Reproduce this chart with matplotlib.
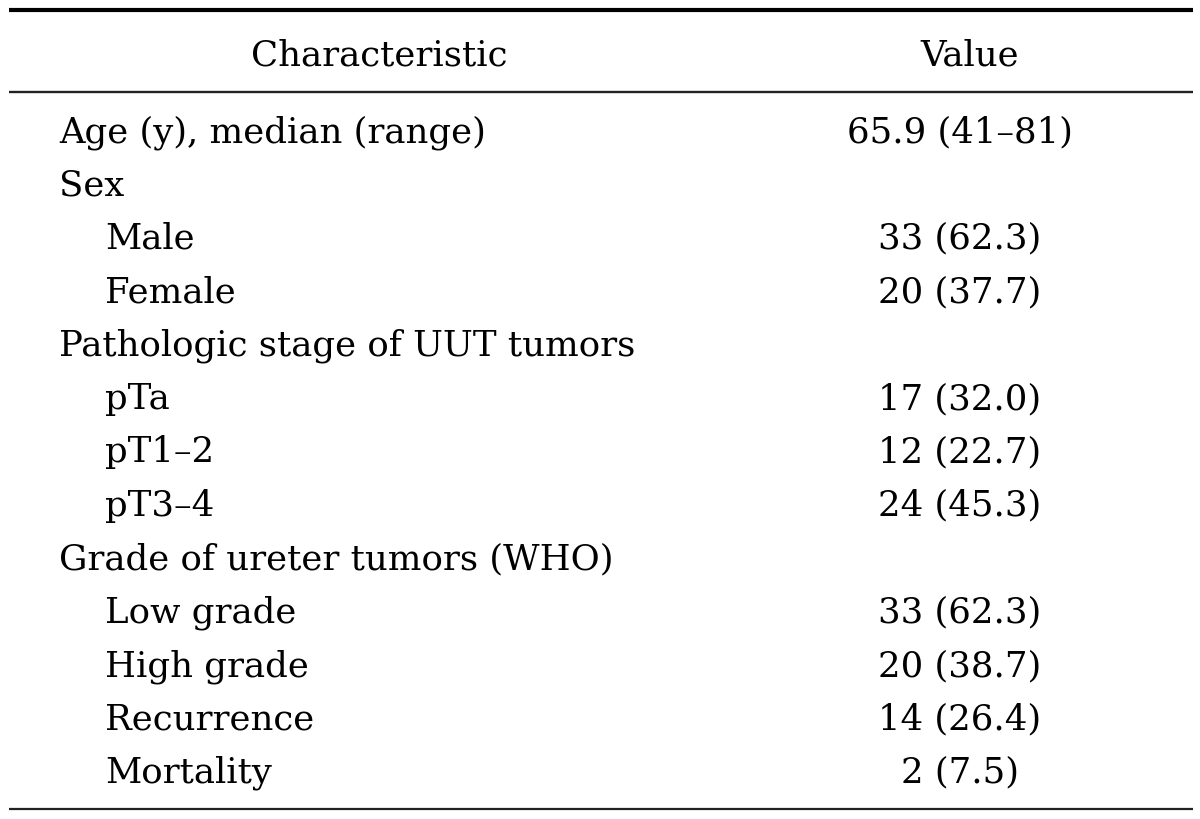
import matplotlib
matplotlib.use("Agg")
import matplotlib.pyplot as plt

# table content
header = ["Characteristic", "Value"]
labels = ["Age (y), median (range)", "Sex", "Male", "Female",
          "Pathologic stage of UUT tumors", "pTa", "pT1\u20132", "pT3\u20134",
          "Grade of ureter tumors (WHO)", "Low grade", "High grade",
          "Recurrence", "Mortality"]
indent = [0, 0, 1, 1, 0, 1, 1, 1, 0, 1, 1, 1, 1]
values = ["65.9 (41\u201381)", "", "33 (62.3)", "20 (37.7)", "",
          "17 (32.0)", "12 (22.7)", "24 (45.3)", "",
          "33 (62.3)", "20 (38.7)", "14 (26.4)", "2 (7.5)"]

W, H = 1200, 819
fig = plt.figure(figsize=(W / 100, H / 100), dpi=100)
ax = fig.add_axes([0, 0, 1, 1])
ax.set_xlim(0, W)
ax.set_ylim(H, 0)
ax.axis("off")

font = dict(family="DejaVu Serif", fontsize=25.6, color="black")

# rules
ax.plot([9, 1193], [10, 10], color="black", lw=3.0, solid_capstyle="butt")
ax.plot([9, 1193], [91.5, 91.5], color="#222222", lw=1.7, solid_capstyle="butt")
ax.plot([9, 1193], [809, 809], color="#222222", lw=1.6, solid_capstyle="butt")

ax.text(379, 65, header[0], ha="center", va="baseline", **font)
ax.text(970, 65, header[1], ha="center", va="baseline", **font)

x_left, x_ind, x_val = 59, 105, 960
y0, step = 142, 53.4
for i, (lab, ind, val) in enumerate(zip(labels, indent, values)):
    y = y0 + i * step
    ax.text(x_ind if ind else x_left, y, lab, ha="left", va="baseline", **font)
    if val:
        ax.text(x_val, y, val, ha="center", va="baseline", **font)

fig.savefig("out.png", dpi=100, facecolor="white")
